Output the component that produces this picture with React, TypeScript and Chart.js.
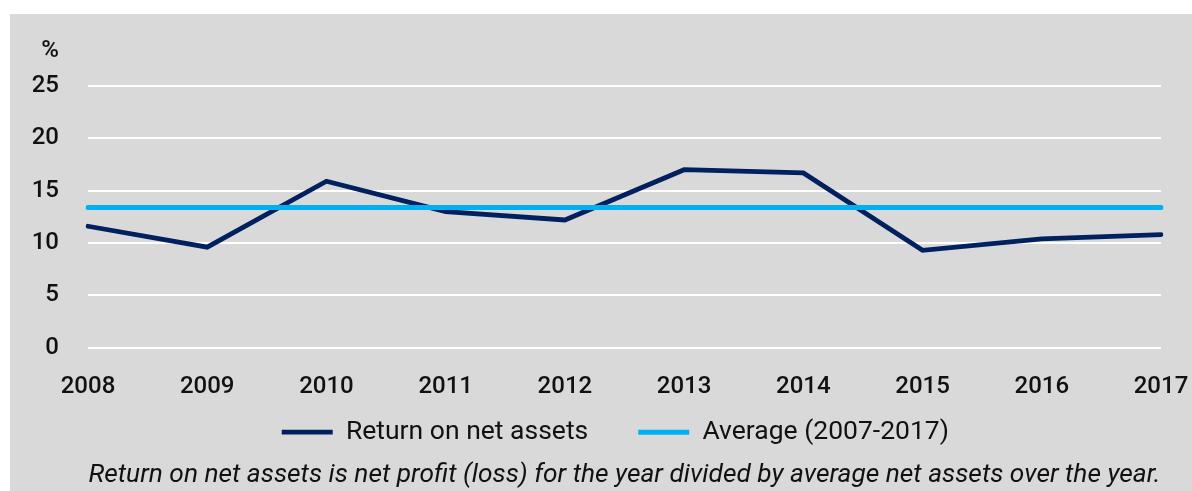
import React, { useEffect, useRef } from "react";
import { Chart, registerables } from "chart.js";

Chart.register(...registerables);

const years = ["2008", "2009", "2010", "2011", "2012", "2013", "2014", "2015", "2016", "2017"];
const returnOnNetAssets = [11.6, 9.6, 15.9, 13.0, 12.2, 17.0, 16.7, 9.3, 10.4, 10.8];
const averageReturn = [13.4, 13.4, 13.4, 13.4, 13.4, 13.4, 13.4, 13.4, 13.4, 13.4];
const yTickValues = [0, 5, 10, 15, 20, 25];
const seriesNames = ["Return on net assets", "Average (2007-2017)"];
const unitLabel = "%";
const footnote =
  "Return on net assets is net profit (loss) for the year divided by average net assets over the year.";

const FONT = "Roboto, 'Noto Sans', sans-serif";
const TEXT = "#111111";
const NAVY = "#002060";
const CYAN = "#00B0F0";
const BG = "#d9d9d9";

const unitPlugin = {
  id: "unitLabel",
  afterDraw(chart: any) {
    const { ctx, chartArea } = chart;
    ctx.save();
    ctx.font = `500 24px ${FONT}`;
    ctx.fillStyle = TEXT;
    ctx.textAlign = "right";
    ctx.textBaseline = "alphabetic";
    ctx.fillText(unitLabel, chartArea.left - 29, chartArea.top - 29);
    ctx.restore();
  },
};

// the legend uses a wide gap between items; pull its row up and nudge it right
const legendOffsetPlugin = {
  id: "legendOffset",
  afterLayout(chart: any) {
    if (chart.legend) {
      chart.legend.left += 37.7;
      chart.legend.top -= 27;
    }
  },
};

export default function App() {
  const canvasRef = useRef<HTMLCanvasElement | null>(null);

  useEffect(() => {
    if (!canvasRef.current) return;
    const chart = new Chart(canvasRef.current, {
      type: "line",
      data: {
        labels: years,
        datasets: [
          {
            label: seriesNames[0],
            data: returnOnNetAssets,
            borderColor: NAVY,
            backgroundColor: NAVY,
            borderWidth: 4.8,
            borderCapStyle: "round",
            borderJoinStyle: "miter",
            pointRadius: 0,
            tension: 0,
            order: 2,
          },
          {
            label: seriesNames[1],
            data: averageReturn,
            borderColor: CYAN,
            backgroundColor: CYAN,
            borderWidth: 5,
            borderCapStyle: "round",
            pointRadius: 0,
            tension: 0,
            order: 1,
          },
        ],
      },
      options: {
        responsive: true,
        maintainAspectRatio: false,
        animation: false,
        events: [],
        layout: { padding: { left: 22, right: 31, top: 72, bottom: 0 } },
        scales: {
          x: {
            grid: { display: false, drawTicks: false },
            border: { display: false },
            ticks: {
              padding: 30.3,
              maxRotation: 0,
              autoSkip: false,
              color: TEXT,
              font: { family: FONT, size: 24, weight: "500", lineHeight: 0.75 },
            },
            afterFit: (s: any) => {
              s.paddingLeft = 0;
              s.paddingRight = 0;
              s.height = 48.3;
            },
          },
          y: {
            min: yTickValues[0],
            max: yTickValues[yTickValues.length - 1],
            afterBuildTicks: (s: any) => {
              s.ticks = yTickValues.map((v) => ({ value: v }));
            },
            grid: { color: "#ffffff", lineWidth: 2, drawTicks: false },
            border: { display: false },
            ticks: {
              padding: 29,
              color: TEXT,
              font: { family: FONT, size: 24, weight: "500" },
            },
            afterFit: (s: any) => {
              s.width = 56;
            },
          },
        },
        plugins: {
          legend: {
            position: "bottom",
            maxHeight: 59.5,
            labels: {
              usePointStyle: true,
              pointStyle: "line",
              pointStyleWidth: 51,
              padding: 50,
              color: TEXT,
              font: { family: FONT, size: 26.5 },
              sort: (a: any, b: any) => a.datasetIndex - b.datasetIndex,
            },
          },
          subtitle: {
            display: true,
            text: footnote,
            position: "bottom",
            fullSize: false,
            color: TEXT,
            font: { family: FONT, size: 26.3, style: "italic", weight: "normal" },
            padding: { top: 4, bottom: 0 },
          },
          tooltip: { enabled: false },
          title: { display: false },
        },
      } as any,
      plugins: [unitPlugin, legendOffsetPlugin],
    });
    return () => chart.destroy();
  }, []);

  return (
    <div
      style={{
        position: "absolute",
        left: 10,
        top: 14,
        width: 1182,
        height: 477,
        background: BG,
      }}
    >
      <canvas ref={canvasRef} />
    </div>
  );
}
